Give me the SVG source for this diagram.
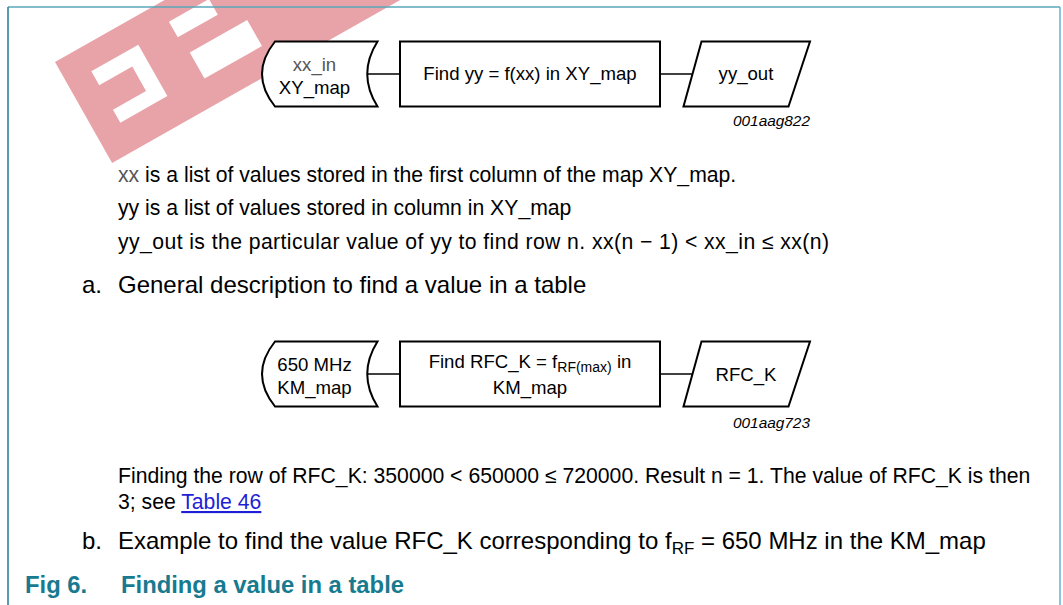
<svg xmlns="http://www.w3.org/2000/svg" width="1063" height="605" viewBox="0 0 1063 605">
<style>
  text { font-family: "Liberation Sans", Arial, sans-serif; fill: #000; }
  .dt { font-size: 18.6px; }
  .sub { font-size: 14px; }
  .body { font-size: 21.2px; }
  .head { font-size: 24px; }
  .lbl { font-size: 15.4px; font-style: italic; }
  .cap { font-size: 23.8px; font-weight: bold; fill: #177a8f; }
  .shape { fill: #fff; stroke: #000; stroke-width: 2; }
  .conn { stroke: #000; stroke-width: 1.3; fill: none; }
  .wm { fill: #e8a3a8; }
  .wmc { fill: #fff; }
  .link { fill: #1f1fd6; text-decoration: underline; }
</style>
<rect x="0" y="0" width="1063" height="605" fill="#fff"/>

<!-- watermark -->
<g id="watermark" transform="translate(55,62) rotate(-29.5)">
  <rect class="wm" x="0" y="0" width="430" height="116"/>
  <path class="wmc" d="M27,26 H81 V85 H27 V70 H65 V42 H27 Z"/>
  <rect class="wmc" x="119" y="21" width="46" height="18"/>
  <rect class="wmc" x="122" y="58" width="66" height="30"/>
</g>

<!-- frame -->
<g id="frame">
  <line x1="8" y1="7" x2="1060" y2="7" stroke="#5aa7ba" stroke-width="1.5"/>
  <line x1="8" y1="7" x2="8" y2="605" stroke="#1f7f96" stroke-width="1.5"/>
  <line x1="1060" y1="7" x2="1060" y2="605" stroke="#6ab3c5" stroke-width="1.5"/>
</g>

<!-- connectors -->
<g id="connectors">
  <line class="conn" x1="367" y1="74" x2="400" y2="74"/>
  <line class="conn" x1="660" y1="74" x2="692.5" y2="74"/>
  <line class="conn" x1="367" y1="374" x2="400" y2="374"/>
  <line class="conn" x1="660" y1="374" x2="692.5" y2="374"/>
</g>

<!-- diagram a -->
<g id="node-a-input">
  <path class="shape" d="M275,41.5 H377.5 Q357,74 377.5,106.5 H275 Q249,74 275,41.5 Z"/>
  <text class="dt" x="314.5" y="71" text-anchor="middle" style="fill:#555">xx_in</text>
  <text class="dt" x="314.5" y="94" text-anchor="middle">XY_map</text>
</g>
<g id="node-a-process">
  <rect class="shape" x="400" y="41.5" width="260" height="65"/>
  <text class="dt" x="530" y="80" text-anchor="middle">Find yy = f(xx) in XY_map</text>
</g>
<g id="node-a-output">
  <polygon class="shape" points="701.5,41.5 810,41.5 788.5,106.5 683.5,106.5"/>
  <text class="dt" x="746" y="80" text-anchor="middle">yy_out</text>
</g>
<text class="lbl" x="810" y="126" text-anchor="end">001aag822</text>

<!-- text a -->
<text class="body" x="118" y="182"><tspan style="fill:#555">xx</tspan> is a list of values stored in the first column of the map XY_map.</text>
<text class="body" x="118" y="215">yy is a list of values stored in column in XY_map</text>
<text class="body" x="118" y="249" textLength="711" lengthAdjust="spacing">yy_out is the particular value of yy to find row n. xx(n − 1) &lt; xx_in ≤ xx(n)</text>
<text class="head" x="82" y="293">a.</text>
<text class="head" x="118" y="293">General description to find a value in a table</text>

<!-- diagram b -->
<g id="node-b-input">
  <path class="shape" d="M275,341.5 H377.5 Q357,374 377.5,406.5 H275 Q249,374 275,341.5 Z"/>
  <text class="dt" x="314.5" y="371" text-anchor="middle">650 MHz</text>
  <text class="dt" x="314.5" y="394" text-anchor="middle">KM_map</text>
</g>
<g id="node-b-process">
  <rect class="shape" x="400" y="341.5" width="260" height="65"/>
  <text class="dt" x="530" y="367.5" text-anchor="middle">Find RFC_K = f<tspan class="sub" dy="4">RF(max)</tspan><tspan dy="-4"> in</tspan></text>
  <text class="dt" x="530" y="393.5" text-anchor="middle">KM_map</text>
</g>
<g id="node-b-output">
  <polygon class="shape" points="701.5,341.5 810,341.5 788.5,406.5 683.5,406.5"/>
  <text class="dt" x="746" y="381" text-anchor="middle">RFC_K</text>
</g>
<text class="lbl" x="810" y="428" text-anchor="end">001aag723</text>

<!-- text b -->
<text class="body" x="118" y="483">Finding the row of RFC_K: 350000 &lt; 650000 ≤ 720000. Result n = 1. The value of RFC_K is then</text>
<text class="body" x="118" y="509">3; see <tspan class="link">Table 46</tspan></text>
<text class="head" x="82" y="549">b.</text>
<text class="head" x="118" y="549">Example to find the value RFC_K corresponding to f<tspan style="font-size:17px" dy="5">RF</tspan><tspan dy="-5"> = 650 MHz in the KM_map</tspan></text>

<!-- caption -->
<text class="cap" x="25" y="593">Fig 6.</text>
<text class="cap" x="121" y="593">Finding a value in a table</text>
</svg>
